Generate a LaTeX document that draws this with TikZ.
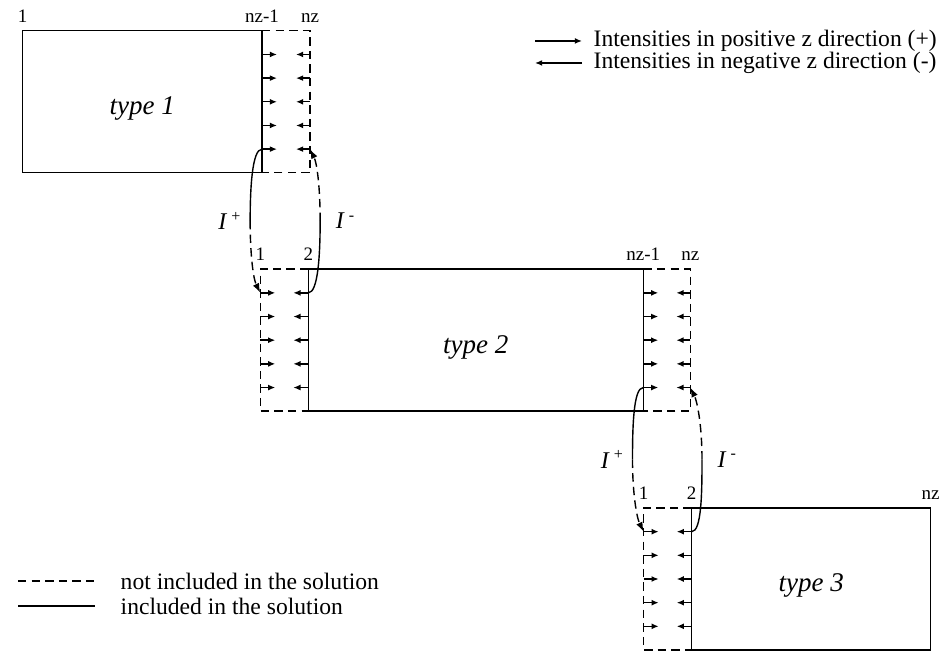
\documentclass[tikz,border=0pt]{standalone}
\usepackage{fontspec}
\setmainfont{Liberation Serif}
\usetikzlibrary{arrows.meta,positioning,calc}
\tikzset{
  solbox/.style={draw,rectangle,inner sep=0pt,outer sep=0pt,minimum height=71pt,text height=13pt,text depth=0pt,font=\fontsize{13.5}{16}\selectfont\itshape},
  ghost/.style={dash pattern=on 4.2pt off 2.6pt},
  flux/.style={-{Latex[length=3.6pt,width=3pt]}},
  cflux/.style={-{Latex[length=4.8pt,width=3.4pt]}},
  idx/.style={font=\fontsize{9.5}{11}\selectfont,inner sep=0pt},
  ilbl/.style={font=\fontsize{12}{14}\selectfont,inner sep=0pt},
  lgd/.style={font=\fontsize{11.8}{13}\selectfont,anchor=west,inner sep=0pt}
}

\begin{document}
\begin{tikzpicture}[x=0.5pt,y=-0.5pt,line width=0.7pt]
  \useasboundingbox (0,0) rectangle (943,651);

  % Solid blocks (included in the solution)
  \node[solbox,minimum width=119.7pt] (t1) at (142.3,101.8) {type 1};
  \node[solbox,minimum width=167.5pt] (t2) at (475.8,340.2) {type 2};
  \node[solbox,minimum width=119.5pt] (t3) at (811.2,579) {type 3};

  % Ghost cells (not included in the solution)
  \coordinate (t1gne) at ($(t1.north east)+(48,0)$);
  \coordinate (t2gnw) at ($(t2.north west)+(-48,0)$);
  \coordinate (t2gne) at ($(t2.north east)+(47,0)$);
  \coordinate (t3gnw) at ($(t3.north west)+(-48,0)$);
  \draw[ghost] (t1.north east) -- (t1gne) |- (t1.south east);
  \draw[ghost] (t2.north west) -- (t2gnw) |- (t2.south west);
  \draw[ghost] (t2.north east) -- (t2gne) |- (t2.south east);
  \draw[ghost] (t3.north west) -- (t3gnw) |- (t3.south west);

  % Cell indices
  \node[idx,above=4pt of t1.north west] (i11) {1};
  \node[idx,above=4pt of t1.north east] (i1a) {nz-1};
  \node[idx,above=4pt of t1gne] (i1b) {nz};
  \node[idx,above=4pt of t2gnw] (i21) {1};
  \node[idx,above=4pt of t2.north west] (i22) {2};
  \node[idx,above=4pt of t2.north east] (i2a) {nz-1};
  \node[idx,above=4pt of t2gne] (i2b) {nz};
  \node[idx,above=4pt of t3gnw] (i31) {1};
  \node[idx,above=4pt of t3.north west] (i32) {2};
  \node[idx,above=4pt of t3.north east] (i3b) {nz};

  % Intensity arrows in the boundary cells
  \foreach \k in {1,...,5}{
    \coordinate (a\k) at ($(t1.north east)!\k/6!(t1.south east)$);
    \coordinate (b\k) at ($(a\k)+(48,0)$);
    \draw[flux] (a\k) -- ++(15,0);
    \draw[flux] (b\k) -- ++(-14,0);
    \coordinate (c\k) at ($(t2.north west)!\k/6!(t2.south west)$);
    \coordinate (d\k) at ($(c\k)+(-48,0)$);
    \draw[flux] (d\k) -- ++(15,0);
    \draw[flux] (c\k) -- ++(-15,0);
    \coordinate (e\k) at ($(t2.north east)!\k/6!(t2.south east)$);
    \coordinate (f\k) at ($(e\k)+(47,0)$);
    \draw[flux] (e\k) -- ++(15,0);
    \draw[flux] (f\k) -- ++(-14,0);
    \coordinate (g\k) at ($(t3.north west)!\k/6!(t3.south west)$);
    \coordinate (h\k) at ($(g\k)+(-48,0)$);
    \draw[flux] (h\k) -- ++(15,0);
    \draw[flux] (g\k) -- ++(-15,0);
  }

  % Exchange type 1 <-> type 2
  \coordinate (m1) at ($(a5)!0.5!(d1)+(-11,0)$);
  \coordinate (m2) at ($(c1)!0.5!(b5)+(11,0)$);
  \draw (a5) .. controls +(-10,0) and +(0,-32) .. (m1);
  \draw[ghost,cflux] (m1) .. controls +(0,34) and +(-7,-14) .. (d1);
  \draw (c1) .. controls +(10,0) and +(0,32) .. (m2);
  \draw[ghost,cflux] (m2) .. controls +(0,-34) and +(7,14) .. (b5);
  \node[ilbl,left=4pt of m1] (ip1) {\textit{I}\,\textsuperscript{+}};
  \node[ilbl,right=7.5pt of m2] (im1) {\textit{I}\,\textsuperscript{-}};

  % Exchange type 2 <-> type 3
  \coordinate (m3) at ($(e5)!0.5!(h1)+(-11,0)$);
  \coordinate (m4) at ($(g1)!0.5!(f5)+(11,0)$);
  \draw (e5) .. controls +(-10,0) and +(0,-32) .. (m3);
  \draw[ghost,cflux] (m3) .. controls +(0,34) and +(-7,-14) .. (h1);
  \draw (g1) .. controls +(10,0) and +(0,32) .. (m4);
  \draw[ghost,cflux] (m4) .. controls +(0,-34) and +(7,14) .. (f5);
  \node[ilbl,left=4pt of m3] (ip2) {\textit{I}\,\textsuperscript{+}};
  \node[ilbl,right=7.5pt of m4] (im2) {\textit{I}\,\textsuperscript{-}};

  % Legend: directions
  \coordinate (kp) at (535,41);
  \coordinate (km) at (582,63);
  \draw[flux] (kp) -- ++(47,0);
  \draw[flux] (km) -- ++(-47,0);
  \node[lgd] (lp) at (593,41) {Intensities in positive z direction (+)};
  \node[lgd] (lm) at (593,63) {Intensities in negative z direction (-)};

  % Legend: line styles
  \coordinate (kg) at (18,581);
  \coordinate (ks) at (18,606);
  \draw[ghost] (kg) -- ++(77,0);
  \draw (ks) -- ++(77,0);
  \node[lgd] (lg) at (120,581) {not included in the solution};
  \node[lgd] (ls) at (120,606) {included in the solution};
\end{tikzpicture}
\end{document}
